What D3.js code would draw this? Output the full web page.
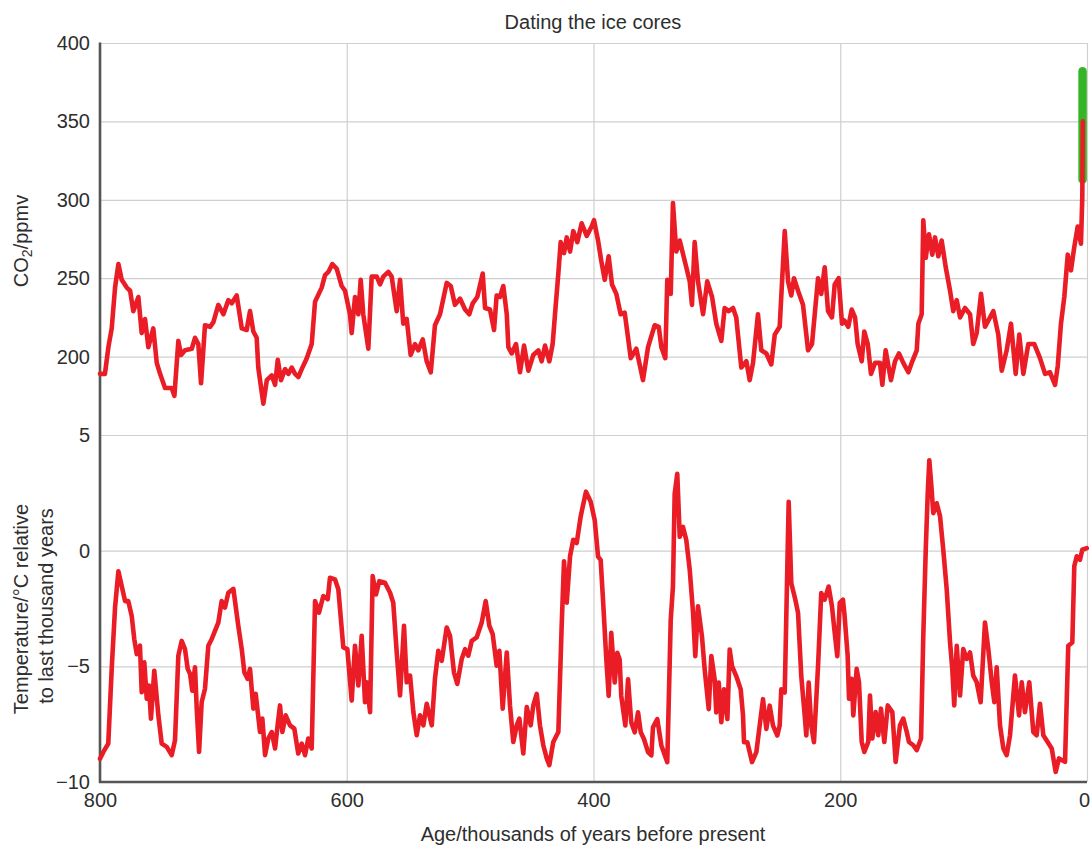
<!DOCTYPE html>
<html>
<head>
<meta charset="utf-8">
<script src="https://cdn.jsdelivr.net/npm/d3@7"></script>
<style>
  html, body { margin: 0; padding: 0; background: #fff; }
  svg { display: block; }
  text { font-family: "Liberation Sans", Arial, Helvetica, sans-serif; fill: #2e2e2e; }
</style>
</head>
<body>
<svg id="chart" width="1091" height="848"></svg>
<script>
// Ice-core record: age in thousands of years before present
const co2Age = [800,796,793.2,790.5,787.8,785.1,782.4,778.3,775.6,773,768.9,766.2,763.5,760.8,756.8,754,751.3,747.3,741.9,739.7,736.5,734.3,731.1,725.6,723,720.3,718.1,714.9,710.8,708.1,704.1,700,696,693.2,689.2,685.1,681.1,678.4,675.7,673,671.7,667.6,664.8,660.8,658.1,655.9,653.3,650,647.3,644.6,641.9,639.2,636.5,632.4,628.4,625.7,620.3,617.6,614.9,611.7,608.1,604.1,601.4,597.4,596,593.3,590.6,588.7,586.6,582.5,579.8,575.7,573,570.4,566.3,563.6,559.5,556.8,554.2,551.4,548.2,544.7,542,538.4,535.2,531.9,528.5,524.4,519,515.7,512.3,508.2,504.1,500.7,497.9,494.2,489.8,487.9,483.9,480.6,478.5,475.8,473.1,470.3,469,466.3,462.8,459.6,456.3,452.8,448.8,444.7,442,439.3,435.8,433.1,431.2,428.5,426.6,423.9,421.7,419,416.4,413.1,409.6,405.5,401.5,399.6,396.3,393.7,390.9,387.7,385,381.5,378,374.7,369.8,365.3,359.9,355.8,350.4,347.1,345,341.8,340.2,337.4,335.6,332.9,330.1,324.8,322,320.2,318,315.3,311.2,307.8,303.9,300.5,296.4,293.7,290.4,286.9,284.3,280.2,276.1,273.4,270.7,266.7,264,259.9,255.9,253.1,249.1,245,242.3,239.7,237.5,234.2,230.2,226.1,222.9,218,215.4,212.6,209.9,206.7,204.5,201.3,198.6,196.7,193.5,190.7,188,185.9,182.6,180.5,177.7,175.1,171.8,167.8,165.9,163.2,158.9,155.6,152.4,148.9,144.8,141.6,138,136.7,134,132.7,130.7,128.1,125.4,123.2,120.5,117.8,114.5,111,108.4,105.6,102.9,98.9,94.8,92.2,89.4,85.9,82.7,78.6,75.9,71.9,69.1,65.1,61.6,57.8,54.9,51.6,47.6,42.7,38.1,34,30,25.9,23.7,21.1,18.4,15.6,13,10.3,7.5,4.9,3.8,3.4];
// CO2 concentration, ppmv
const co2Ppm = [189,189,206,218,244,259,249,244,242,229,238,215,224,206,218,196,189,180,180,175,210,201,204,205,212,208,183,220,219,222,233,227,236,234,239,218,217,229,216,212,193,170,185,188,182,198,185,192,189,193,189,187,192,199,208,235,244,252,254,259,256,245,242,227,215,238,227,249,227,205,251,251,246,251,254,251,229,249,221,224,201,208,204,211,197,190,220,227,247,245,233,237,230,227,234,238,253,231,230,217,239,238,245,227,206,202,208,190,207,191,201,204,197,207,197,208,227,253,273,266,276,267,280,273,285,277,283,287,274,261,249,264,246,240,227,228,199,205,185,206,220,219,206,199,249,240,298,267,274,257,248,233,273,248,227,248,238,221,210,231,229,231,225,193,197,185,196,227,204,202,195,214,219,280,248,239,250,242,233,204,208,250,240,257,229,225,246,250,221,223,219,230,225,208,197,216,208,189,196,196,182,204,185,197,202,196,190,197,204,221,227,287,263,278,265,276,264,274,257,242,229,236,225,231,227,208,215,240,219,225,229,214,191,204,221,189,214,189,208,208,199,189,190,182,194,221,238,265,255,270,283,272,302,350];

// Temperature relative to the last thousand years, °C
const tempAge = [800,797.3,793.3,790.5,787.8,785.1,782.4,779.7,777.1,774.3,772.2,770.2,767.6,766.2,764.1,762.1,760.3,758.7,756,752.7,750,745.9,741.9,739.2,736.5,733.8,731.1,728.9,727,725.2,723,721.6,719.7,717.6,714.9,712.2,709.5,706.8,704.1,701.4,698.7,696,691.9,687.9,685.1,683,680.3,678.4,675.7,673.8,670.3,668.4,666.2,663.6,660.8,658.1,655.9,654.1,652.2,649.5,646,642.5,639.3,636.5,633.8,631.2,628.4,625.7,622.5,619,615.4,613.6,609.5,606.8,602.8,599.5,596,593.3,590.6,587.9,585.2,583.8,581.1,579,576.3,573.6,569,564.9,562.3,559.5,556.8,553.6,551.4,548.7,546,543.3,540.6,537.9,535.2,531.1,528.5,525.8,523,519,516.3,513.1,510.4,506.8,504.1,501.5,498.7,494.7,490.6,487.4,484.4,481.7,478.5,476.3,473.6,470.3,467.7,465,462.2,460.1,456.9,454.1,450.9,448.8,446,443.4,440.7,437.9,435.8,432.6,428.5,425.8,423.9,421.7,419,416.4,413.6,410.4,406.1,402.3,399,396.3,394.2,392.3,389.6,387.7,385.6,382.8,380.7,378.8,377.5,374.2,372,369.4,366.6,363.9,361.7,359.1,355.8,353.1,351.8,348.3,345,340.2,337.4,335.6,334.2,332.1,330.1,327.5,324.8,322,319.3,317.5,315.3,312.1,309.9,306.6,304.5,301.8,300.5,298.5,296.4,294.2,291.5,289.6,287.7,284.3,280.7,278.8,278,275.3,271.5,268,265.3,262.6,259.9,257.2,254.5,251,249.1,247.8,245,241.8,239.7,236.4,234.2,231.6,228.8,227.5,225.6,223.5,221.3,218,215.4,212.6,209.4,206.7,204.5,202.4,200.4,197.8,196.7,194,192.9,190.7,189.4,186.7,184.8,182.6,180.5,177.3,175.9,174,171.3,169.2,167,164.3,161.5,157.8,155.1,151.6,148.9,146.1,144.3,140.8,138,134.5,132.7,130.7,129.1,127.8,125.9,124.6,121.8,119.1,116.5,113.7,111,109.2,107.6,105.6,102.9,100.3,97.5,94.8,92.2,89.4,86.2,82.7,80,77.2,75.1,73.2,70.5,67.8,65.1,62.4,58.4,55.1,52.9,50.3,46.8,43.5,40.8,38.1,35.4,31.9,28.6,25.4,22.7,17.8,15.2,11.9,10.3,8.3,5.7,3.8,0.2];
const tempC = [-9.0,-8.7,-8.34,-5.1,-2.46,-0.89,-1.53,-2.18,-2.18,-2.82,-3.83,-4.47,-4.11,-6.12,-4.83,-6.4,-5.83,-7.26,-5.19,-7.12,-8.34,-8.48,-8.84,-8.2,-4.54,-3.9,-4.26,-5.11,-5.33,-6.05,-5.04,-6.83,-8.7,-6.55,-5.97,-4.11,-3.83,-3.47,-3.11,-2.18,-2.46,-1.82,-1.65,-3.25,-4.26,-5.26,-5.54,-5.11,-6.83,-6.19,-7.84,-7.26,-8.84,-8.12,-7.84,-8.55,-7.48,-6.69,-7.84,-7.12,-7.55,-7.69,-8.77,-8.34,-8.84,-8.12,-8.55,-2.18,-2.68,-1.96,-2.1,-1.17,-1.24,-1.68,-4.18,-4.26,-6.48,-4.11,-5.83,-3.68,-6.55,-5.69,-6.98,-1.1,-1.89,-1.32,-1.39,-1.82,-2.25,-4.4,-6.26,-3.25,-5.69,-5.4,-6.98,-7.98,-7.12,-7.55,-6.62,-7.55,-5.54,-4.33,-4.76,-3.32,-3.68,-5.26,-5.76,-4.68,-4.26,-4.54,-3.9,-3.75,-3.11,-2.18,-3.25,-3.61,-4.97,-4.33,-6.83,-4.4,-6.69,-8.27,-7.55,-7.26,-8.77,-6.76,-7.55,-6.69,-6.19,-7.55,-8.41,-8.98,-9.27,-8.27,-7.84,-3.25,-0.46,-2.25,-0.24,0.47,0.33,1.48,2.55,2.12,1.32,-0.26,-0.4,-2.12,-4.7,-6.28,-3.55,-5.7,-4.41,-4.7,-6.28,-7.56,-5.56,-7.42,-7.85,-6.99,-7.85,-8.14,-8.71,-8.85,-7.64,-7.28,-8.42,-9.14,-2.98,-1.55,2.46,3.32,0.6,1.03,0.46,-0.83,-2.69,-4.56,-2.41,-3.7,-5.13,-6.85,-4.56,-5.56,-6.99,-5.7,-7.42,-5.99,-7.28,-4.27,-4.99,-5.42,-5.99,-7.13,-8.28,-8.28,-9.14,-8.71,-7.56,-6.42,-7.71,-6.7,-7.56,-7.99,-7.56,-5.99,-6.13,2.11,-1.4,-2.12,-2.69,-5.42,-7.13,-7.99,-5.7,-7.56,-8.28,-4.99,-1.83,-2.12,-1.55,-2.41,-3.55,-4.56,-2.26,-2.12,-2.68,-4.54,-6.4,-5.54,-7.12,-5.11,-5.69,-8.27,-8.7,-8.27,-6.26,-8.12,-6.98,-7.98,-6.83,-8.27,-6.69,-6.98,-9.13,-7.55,-7.26,-7.84,-8.27,-8.41,-8.62,-8.12,-3.68,0.04,2.48,3.91,2.62,1.62,2.05,1.48,0.04,-1.68,-3.97,-5.11,-6.69,-4.11,-6.26,-4.25,-4.68,-4.4,-5.4,-5.69,-6.55,-3.11,-4.25,-5.69,-6.55,-5.04,-7.55,-8.55,-8.84,-7.98,-5.4,-7.12,-5.69,-6.98,-5.69,-7.84,-7.98,-6.62,-7.98,-8.27,-8.55,-9.56,-8.98,-9.13,-4.11,-3.97,-0.67,-0.24,-0.39,0.04,0.11];

// Recent direct atmospheric measurements, ppmv
const recentAge = [3.6, 3.6];
const recentPpm = [313, 382];

// Tick values
const ageTicks = [800, 600, 400, 200, 0];
const co2Ticks = [200, 250, 300, 350, 400];
const tempTicks = [-10, -5, 0, 5];

const svg = d3.select("#chart");
const plotLeft = 100, plotRight = 1087, plotTop = 43, plotMid = 435, plotBottom = 782;

const x = d3.scaleLinear().domain([800, 0]).range([plotLeft, plotRight]);
const yCo2 = d3.scaleLinear().domain([150, 400]).range([plotMid, plotTop]);
const yTemp = d3.scaleLinear().domain([-10, 5]).range([plotBottom, plotMid]);

const gridColor = "#cfcfcf";
const axisColor = "#555";
const red = "#ea1c26";
const green = "#33b526";

function styleAxis(g) {
  g.select(".domain").remove();
  g.selectAll(".tick line").attr("stroke", gridColor).attr("stroke-width", 1.2);
  g.selectAll(".tick text").attr("font-size", 20).attr("fill", "#2e2e2e")
    .attr("font-family", "'Liberation Sans', Arial, sans-serif");
}

// Horizontal grid + labels, CO2 panel
svg.append("g")
  .attr("transform", `translate(${plotLeft},0)`)
  .call(d3.axisLeft(yCo2).tickValues(co2Ticks).tickSize(-(plotRight - plotLeft)).tickPadding(10).tickFormat(d3.format("d")))
  .call(styleAxis);

// Horizontal grid + labels, temperature panel
svg.append("g")
  .attr("transform", `translate(${plotLeft},0)`)
  .call(d3.axisLeft(yTemp).tickValues(tempTicks).tickSize(-(plotRight - plotLeft)).tickPadding(10).tickFormat(d3.format("d")))
  .call(styleAxis);

// Vertical grid + age labels
const xAxisG = svg.append("g")
  .attr("transform", `translate(0,${plotBottom})`)
  .call(d3.axisBottom(x).tickValues(ageTicks).tickSize(-(plotBottom - plotTop)).tickPadding(11).tickFormat(d3.format("d")))
  .call(styleAxis);
xAxisG.selectAll(".tick text").filter(d => d === 0).attr("dx", -3);

// Dark left and bottom axis lines
svg.append("line").attr("x1", plotLeft).attr("x2", plotLeft).attr("y1", plotTop - 0.5).attr("y2", plotBottom + 1)
  .attr("stroke", axisColor).attr("stroke-width", 2.6);
svg.append("line").attr("x1", plotLeft - 1).attr("x2", plotRight).attr("y1", plotBottom).attr("y2", plotBottom)
  .attr("stroke", axisColor).attr("stroke-width", 2.6);

// Recent measurements (green)
const recentLine = d3.line().x(d => x(d[0])).y(d => yCo2(d[1]));
svg.append("path")
  .datum(d3.zip(recentAge, recentPpm))
  .attr("d", recentLine)
  .attr("fill", "none").attr("stroke", green).attr("stroke-width", 8.5).attr("stroke-linecap", "round");

// CO2 curve
const co2Line = d3.line().x(d => x(d[0])).y(d => yCo2(d[1]));
svg.append("path")
  .datum(d3.zip(co2Age, co2Ppm))
  .attr("d", co2Line)
  .attr("fill", "none").attr("stroke", red).attr("stroke-width", 4.6)
  .attr("stroke-linejoin", "round").attr("stroke-linecap", "round");

// Temperature curve
const tempLine = d3.line().x(d => x(d[0])).y(d => yTemp(d[1]));
svg.append("path")
  .datum(d3.zip(tempAge, tempC))
  .attr("d", tempLine)
  .attr("fill", "none").attr("stroke", red).attr("stroke-width", 4.6)
  .attr("stroke-linejoin", "round").attr("stroke-linecap", "round");

// Titles
svg.append("text").attr("x", 593).attr("y", 29).attr("text-anchor", "middle")
  .attr("font-size", 20).text("Dating the ice cores");
svg.append("text").attr("x", 593).attr("y", 841).attr("text-anchor", "middle")
  .attr("font-size", 20).text("Age/thousands of years before present");

const co2Label = svg.append("text")
  .attr("transform", "translate(28,241) rotate(-90)")
  .attr("text-anchor", "middle").attr("font-size", 20);
co2Label.append("tspan").text("CO");
co2Label.append("tspan").attr("font-size", 14).attr("dy", 4).text("2");
co2Label.append("tspan").attr("dy", -4).text("/ppmv");

svg.append("text")
  .attr("transform", "translate(28,609) rotate(-90)")
  .attr("text-anchor", "middle").attr("font-size", 20)
  .text("Temperature/°C relative");
svg.append("text")
  .attr("transform", "translate(52.5,606) rotate(-90)")
  .attr("text-anchor", "middle").attr("font-size", 20)
  .text("to last thousand years");
</script>
</body>
</html>
